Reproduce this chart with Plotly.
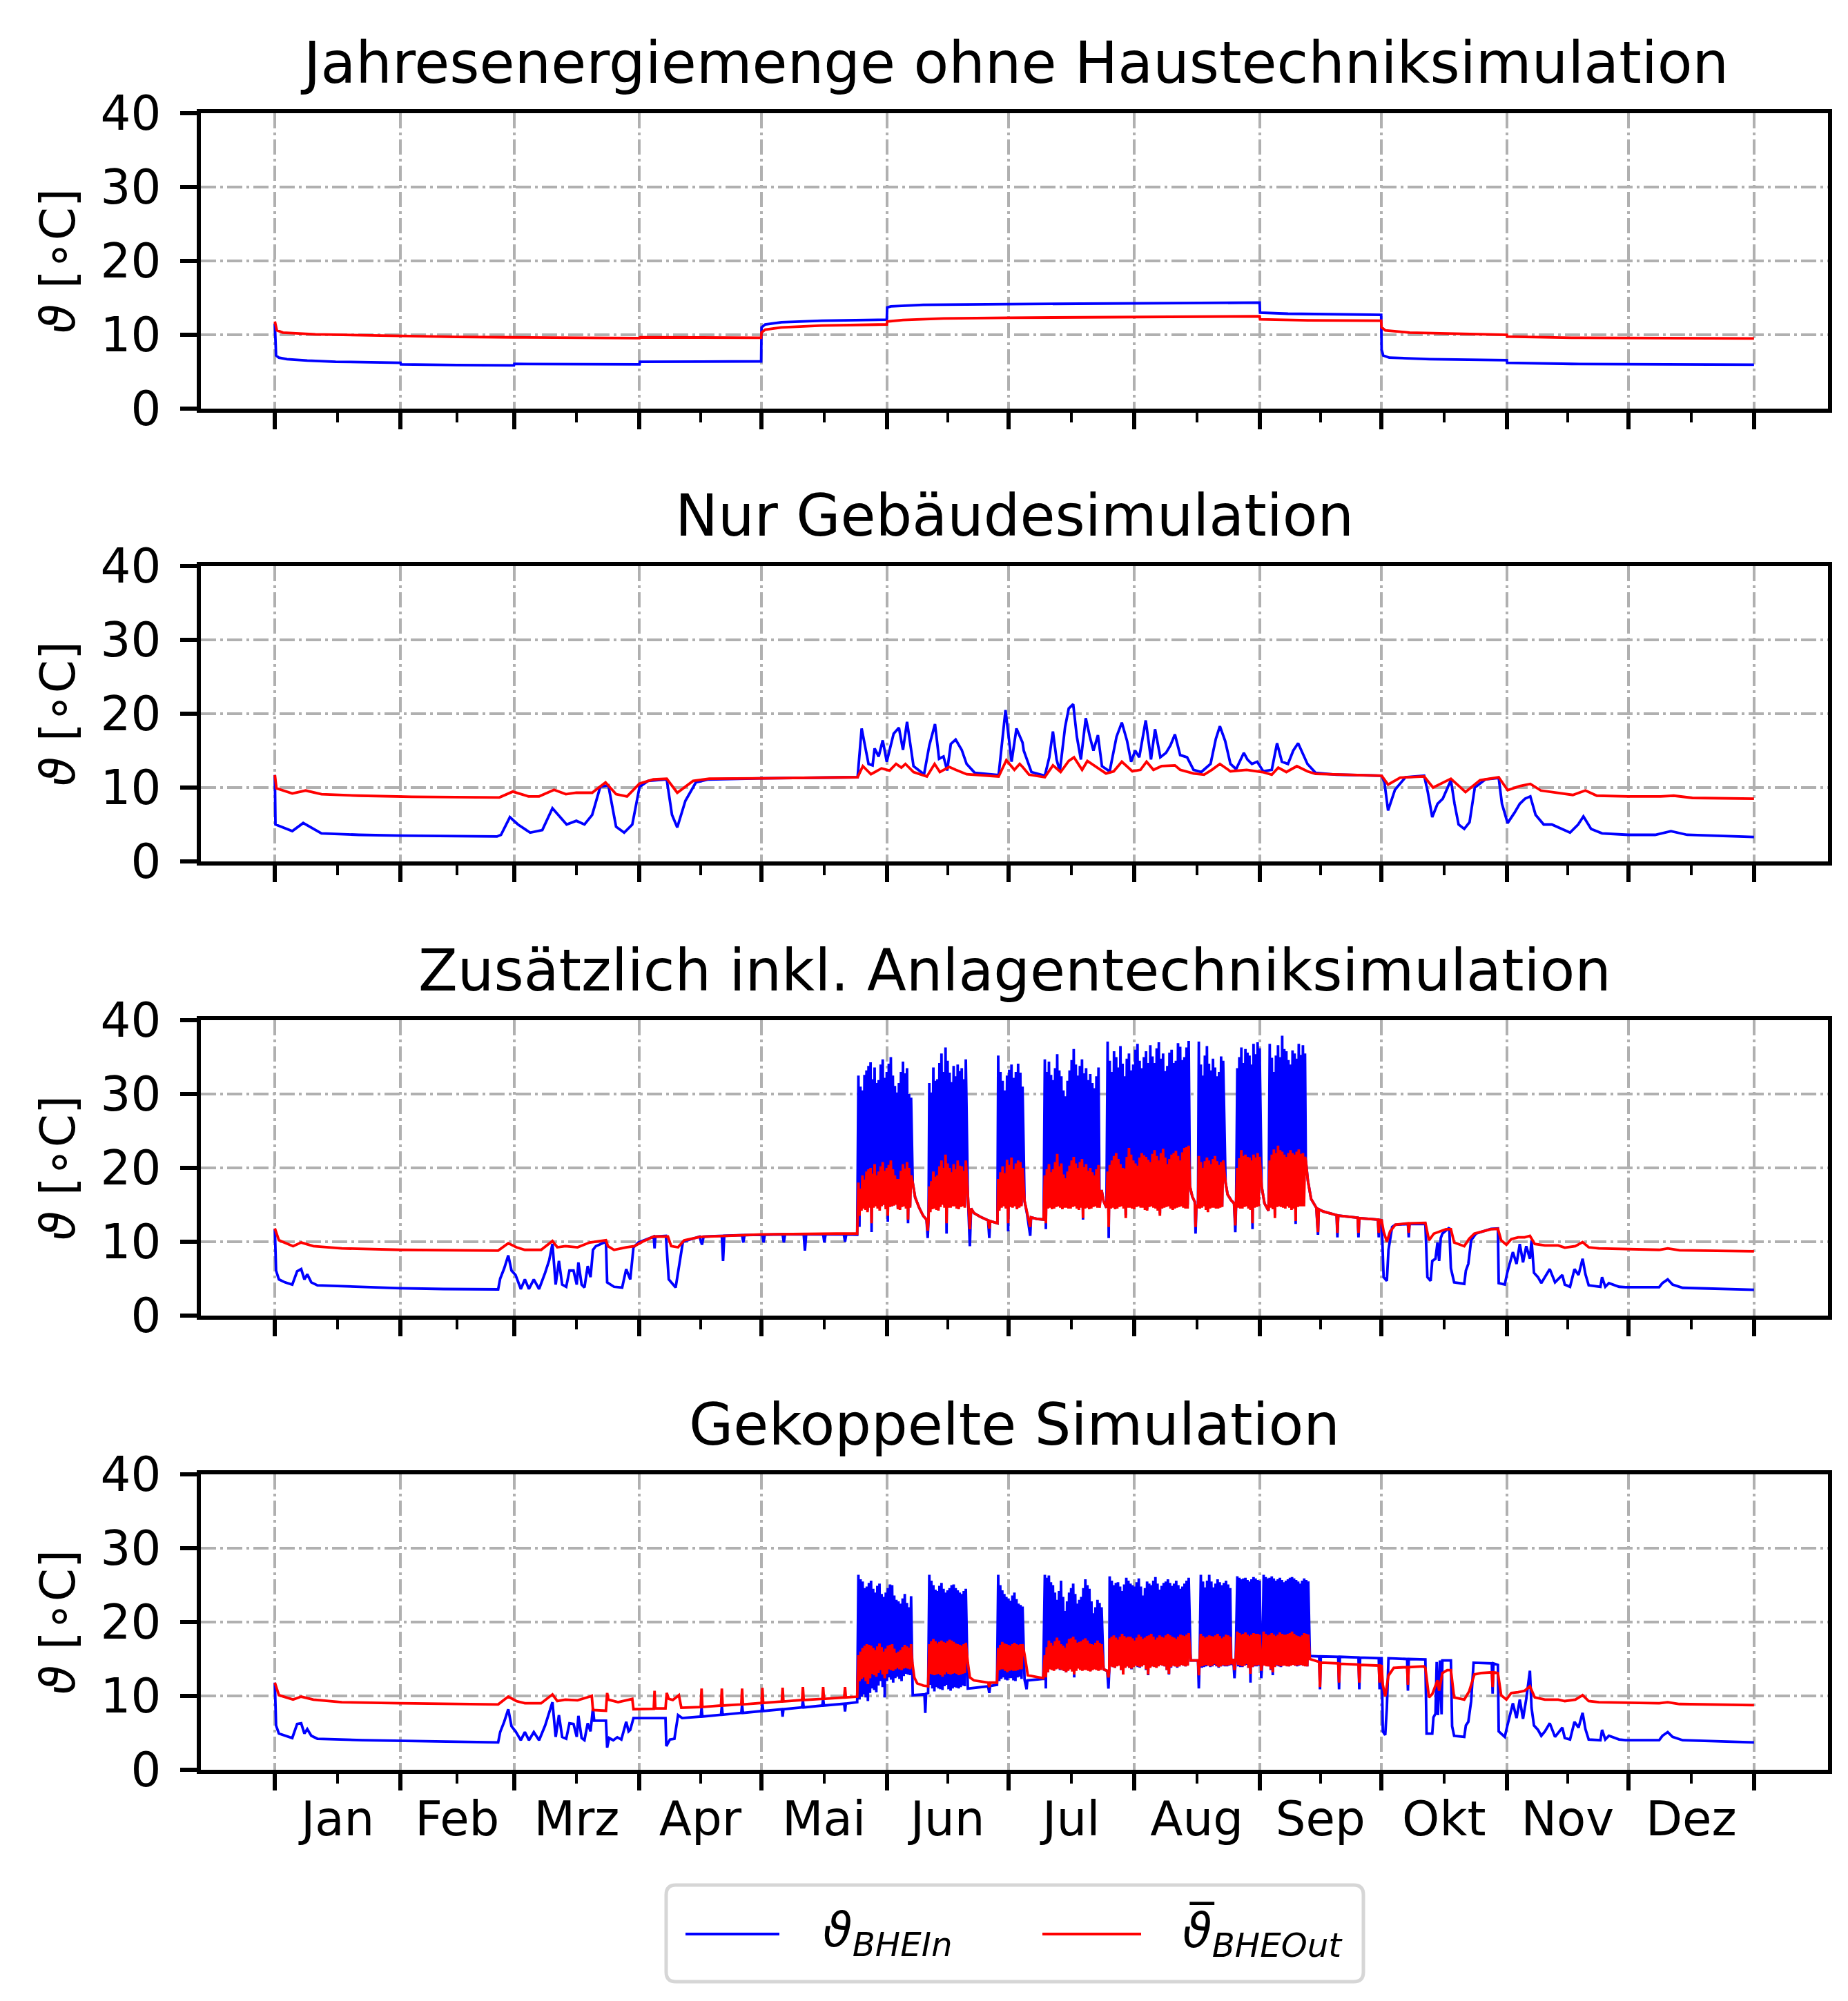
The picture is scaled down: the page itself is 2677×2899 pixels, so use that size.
import plotly.graph_objects as go
from plotly.subplots import make_subplots

# x axis: day of year, months
month_starts = [0, 31, 59, 90, 120, 151, 181, 212, 243, 273, 304, 334, 365]
month_labels = ["Jan", "Feb", "Mrz", "Apr", "Mai", "Jun", "Jul", "Aug", "Sep", "Okt", "Nov", "Dez"]
panel_titles = [
    "Jahresenergiemenge ohne Haustechniksimulation",
    "Nur Gebäudesimulation",
    "Zusätzlich inkl. Anlagentechniksimulation",
    "Gekoppelte Simulation",
]
y_ticks = [0, 10, 20, 30, 40]

# --- panel 1: (day, temperature °C)
p1_in = [(0, 11.5), (0.3, 7.2), (1, 6.9), (3, 6.7), (8, 6.5), (15, 6.35), (31, 6.2), (31.1, 6.0),
         (45, 5.9), (59, 5.85), (59.1, 6.05), (75, 6.0), (90, 6.0), (90.1, 6.35), (120, 6.4),
         (120.1, 11.0), (121, 11.4), (125, 11.7), (135, 11.9), (151, 12.05), (151.1, 13.7),
         (152, 13.85), (160, 14.05), (181, 14.15), (212, 14.25), (243, 14.35), (243.1, 13.0),
         (250, 12.85), (273, 12.7), (273.1, 8.0), (273.5, 7.2), (275, 6.9), (285, 6.7), (304, 6.55),
         (304.1, 6.2), (320, 6.05), (365, 5.95)]
p1_out = [(0, 11.8), (0.5, 10.6), (2, 10.3), (10, 10.05), (31, 9.85), (45, 9.7), (59, 9.65),
          (90, 9.55), (90.1, 9.65), (120, 9.6), (120.1, 10.3), (121, 10.7), (125, 11.0), (135, 11.25),
          (151, 11.4), (151.1, 11.8), (155, 12.0), (165, 12.2), (181, 12.3), (212, 12.4), (243, 12.5),
          (243.1, 12.1), (255, 11.95), (273, 11.9), (273.1, 11.0), (274, 10.6), (280, 10.3),
          (304, 10.0), (304.1, 9.75), (320, 9.6), (365, 9.5)]

# --- panel 2
p2_in = [(0, 11.7), (0.15, 5.0), (4.3, 4.1), (7.0, 5.2), (11.5, 3.8), (20.7, 3.6), (31, 3.5),
         (54.8, 3.37), (55.8, 3.6), (58.0, 6.0), (60.0, 5.0), (63.0, 3.9), (66.0, 4.25), (68.5, 7.2),
         (72.0, 5.0), (74.4, 5.5), (76.4, 5.0), (78.3, 6.3), (80.3, 10.1), (82.3, 10.3), (84.2, 4.7),
         (86.2, 3.9), (88.2, 5.0), (90.0, 10.1), (92.1, 10.9), (96.7, 11.1), (98.0, 6.3), (99.3, 4.6),
         (101.3, 8.2), (103.9, 10.7), (107, 11.1), (120, 11.25), (143.8, 11.4), (144.8, 18.0),
         (146.5, 13.2), (147.5, 13.0), (148, 15.3), (149, 14.2), (150, 16.4), (151, 13.5),
         (152.7, 17.3), (154, 18.1), (155, 15.1), (156, 18.9), (157.6, 12.9), (160.2, 11.8),
         (161.5, 15.7), (162.9, 18.6), (163.9, 13.9), (165, 14.2), (165.9, 12.3), (166.8, 15.9),
         (168, 16.5), (169.5, 15.1), (170.7, 13.2), (172.7, 12.0), (178.6, 11.7), (180.3, 20.5),
         (181.8, 13.5), (183, 18.0), (184.5, 16.1), (184.8, 15.0), (186.7, 12.1), (190, 11.6),
         (191.1, 14.1), (192, 17.6), (192.9, 13.8), (193.7, 12.2), (195, 18.2), (195.9, 20.7),
         (197, 21.3), (197.9, 16.9), (198.9, 13.8), (200.1, 19.4), (201.1, 16.9), (202, 15.0),
         (203.1, 17.1), (204.1, 12.9), (206, 12.2), (207.7, 16.9), (209, 18.8), (210.3, 16.3),
         (211.3, 13.5), (212.3, 15.0), (213.3, 14.1), (214.9, 19.1), (216.2, 13.8), (217.2, 17.9),
         (218.5, 14.1), (219.9, 14.7), (221, 15.7), (222.1, 17.2), (223.4, 14.4), (225.1, 14.1),
         (226.7, 12.4), (228.6, 12.1), (230.9, 13.2), (232.2, 16.6), (233.2, 18.3), (234.5, 16.3),
         (235.8, 13.2), (237.2, 12.5), (239.1, 14.7), (240, 13.8), (241.1, 13.2), (242.4, 13.5),
         (243.9, 12.2), (246, 12.4), (247.3, 16.0), (248.5, 13.5), (250, 13.2), (251.3, 15.0),
         (252.5, 16.0), (253.5, 14.7), (254.8, 13.2), (256.8, 12.0), (262, 11.75), (273.1, 11.6),
         (273.8, 10.7), (274.7, 6.9), (276.4, 9.7), (279, 11.4), (283.6, 11.6), (284.5, 9.4),
         (285.6, 6.0), (286.9, 7.8), (288.2, 8.5), (290.2, 11.0), (291.1, 7.8), (292.1, 5.0),
         (293.5, 4.4), (294.8, 5.3), (296.1, 10.0), (298.7, 11.1), (302, 11.3), (302.8, 7.8),
         (304.2, 5.2), (305.9, 6.6), (307.2, 7.8), (308.5, 8.5), (309.8, 8.8), (311.1, 6.3),
         (313.1, 5.0), (315.1, 5.0), (317.1, 4.5), (319.6, 3.9), (321.6, 5.0), (322.9, 6.1),
         (324.8, 4.4), (327.5, 3.8), (334, 3.6), (340.6, 3.6), (344.5, 4.1), (348.5, 3.6), (365, 3.3)]
p2_out = [(0, 11.7), (0.4, 9.9), (4.3, 9.2), (7.6, 9.6), (11.5, 9.1), (20.7, 8.9), (33.8, 8.75),
          (55.4, 8.66), (58.7, 9.45), (62.6, 8.8), (65.2, 8.8), (68.9, 9.7), (71.8, 9.1), (74.4, 9.3),
          (78.3, 9.3), (81.6, 10.7), (84.2, 9.1), (86.9, 8.8), (90, 10.55), (93.4, 11.1), (96.7, 11.2),
          (99.3, 9.3), (103.2, 10.9), (107.2, 11.2), (120, 11.25), (143.8, 11.4), (145.1, 12.9),
          (147.1, 11.8), (149.7, 12.6), (151.7, 12.3), (153.3, 13.2), (154.6, 12.7), (155.6, 13.2),
          (157.6, 12.1), (160.9, 11.5), (162.8, 13.2), (164.1, 12.1), (166.4, 12.8), (168, 12.4),
          (170.7, 11.8), (178.6, 11.5), (180.5, 13.7), (182.5, 12.4), (183.8, 13.2), (184.5, 12.8),
          (186.1, 11.75), (190, 11.4), (192, 13.0), (193.9, 12.1), (195.9, 13.6), (197.2, 14.1),
          (199.2, 12.4), (200.5, 13.6), (202.4, 12.9), (205.1, 11.9), (207, 12.2), (209, 13.5),
          (211.6, 12.2), (213.6, 12.4), (215.1, 13.5), (216.8, 12.4), (218.8, 12.9), (222.1, 13.0),
          (223.4, 12.4), (226.7, 11.9), (229.3, 11.75), (231.2, 12.4), (233.2, 13.2), (235.8, 12.2),
          (239.8, 12.4), (243.7, 12.1), (246, 11.75), (247.6, 12.7), (249.6, 12.1), (252.2, 12.9),
          (254.8, 12.2), (256.8, 11.85), (273.1, 11.6), (274.7, 10.4), (277.7, 11.35), (283.6, 11.5),
          (285.8, 10.0), (290.2, 11.2), (293.8, 9.4), (297.4, 11.0), (302, 11.4), (304.2, 9.65),
          (307.2, 10.2), (309.8, 10.5), (312.4, 9.6), (317.1, 9.25), (320.3, 9.0), (323.4, 9.6),
          (326.2, 8.9), (334, 8.8), (341.9, 8.8), (345.2, 8.9), (349.8, 8.6), (365, 8.5)]

# --- panel 3
p3_in = [(0, 11.75), (0.3, 6.1), (1, 4.9), (2.5, 4.5), (4.3, 4.2), (5.5, 6.0), (6.5, 6.3), (7.3, 4.9),
         (8, 5.6), (9, 4.5), (10.5, 4.1), (21.6, 3.9), (31, 3.7), (41.6, 3.6), (55.1, 3.55),
         (55.6, 5.0), (56.6, 6.4), (57.6, 8.15), (58.4, 6.1), (59.4, 5.5), (60.7, 3.6), (61.7, 4.9),
         (62.7, 3.6), (63.9, 4.9), (65.2, 3.6), (66.7, 5.8), (67.7, 7.5), (68.5, 9.7), (69.3, 4.2),
         (70.1, 7.4), (70.9, 4.2), (71.9, 3.9), (72.7, 6.1), (73.7, 6.1), (74.5, 4.2), (74.9, 7.2),
         (75.7, 4.2), (76.4, 3.8), (77.2, 6.7), (77.9, 5.2), (78.5, 8.9), (79.2, 9.4), (81.7, 10.0),
         (82.0, 4.5), (83.7, 3.9), (85.7, 3.8), (86.7, 6.3), (87.7, 4.9), (88.5, 9.25), (89.7, 9.9),
         (93.5, 10.7), (93.7, 9.1), (93.9, 10.7), (96.5, 10.8), (97.2, 4.9), (98.9, 3.8), (99.7, 6.4),
         (100.7, 10.0), (104.8, 10.7), (105.4, 9.6), (105.8, 10.7), (110.3, 10.8), (110.6, 7.4),
         (110.9, 10.8), (115.3, 10.9), (115.6, 9.9), (115.9, 10.9), (120.3, 10.95), (120.6, 9.9),
         (120.9, 10.95), (125.3, 11.0), (125.6, 9.9), (125.9, 11.0), (130.5, 11.0), (130.8, 8.8),
         (131.1, 11.0), (135.3, 11.0), (135.6, 9.9), (135.9, 11.0), (140.4, 11.0), (140.7, 10.0),
         (141.0, 11.0), (143.7, 10.95),
         (157.4, 18.0), (158, 16.0), (159, 14.6), (160, 13.5), (160.8, 13.0), (161.1, 10.5), (161.3, 13.0),
         (171.0, 16.5), (171.5, 9.4), (171.8, 14.5), (172.5, 13.9), (174, 13.4), (176, 12.9),
         (176.3, 10.5), (176.5, 12.8), (178.3, 12.5),
         (185.0, 15.5), (185.6, 13.8), (186.4, 10.8), (186.6, 13.3), (188, 13.1), (189.7, 13.0),
         (204.0, 17.0), (204.5, 15.5), (205.2, 14.6),
         (225.8, 17.5), (226.4, 16.1), (227.0, 15.4), (227.2, 11.1), (227.4, 15.0), (227.8, 14.6),
         (234.6, 18.0), (235.1, 16.4), (236.0, 15.6), (236.7, 15.2), (237.0, 11.3), (237.2, 15.0),
         (243.5, 17.5), (244.2, 15.2), (245.2, 14.2),
         (254.4, 21.0), (254.9, 18.3), (255.7, 15.8), (257.0, 14.6), (257.4, 10.95), (257.6, 14.4),
         (258.7, 14.1), (262.0, 13.6), (262.2, 10.6), (262.4, 13.55), (267.2, 13.25), (267.4, 10.6),
         (267.6, 13.2), (272.2, 13.0), (272.4, 10.6), (272.6, 12.95), (273.1, 12.9), (273.6, 5.2),
         (274.4, 4.7), (274.8, 8.9), (275.7, 12.0), (276.5, 12.3), (279.6, 12.4), (279.8, 10.6),
         (280.0, 12.4), (283.5, 12.45), (283.9, 12.4), (284.4, 5.2), (285.2, 4.7), (285.6, 7.4),
         (286.4, 7.7), (286.9, 9.9), (287.3, 7.4), (287.7, 10.5), (288.1, 11.1), (289.8, 11.9),
         (290.2, 6.4), (291, 4.5), (293.5, 4.3), (293.9, 6.1), (294.5, 7.0), (295.2, 10.2),
         (296.4, 11.1), (300.1, 11.75), (301.8, 11.8), (302, 4.4), (303.5, 4.2), (304.1, 5.8),
         (304.7, 7.0), (305.5, 8.6), (306.4, 7.0), (307.2, 9.7), (308, 7.2), (308.8, 9.4),
         (309.7, 7.7), (310.1, 10.2), (310.7, 5.8), (311.7, 5.2), (312.5, 4.4), (313.4, 5.2),
         (314.6, 6.3), (315.9, 4.5), (317.7, 5.5), (318.3, 4.2), (319.6, 3.9), (320.7, 6.3),
         (321.7, 5.5), (322.7, 7.7), (323.4, 5.6), (324.2, 4.1), (327.1, 3.9), (327.5, 5.2),
         (328.3, 3.9), (329.2, 4.4), (331.7, 3.9), (333.3, 3.85), (341.6, 3.85), (342.4, 4.4),
         (343.7, 4.9), (344.9, 4.2), (347.4, 3.76), (365, 3.5)]
p3_out = [(0, 11.8), (1, 10.2), (4.5, 9.4), (6.5, 9.9), (9.5, 9.4), (16.5, 9.1), (31, 8.9),
          (55.1, 8.8), (57.6, 9.8), (59.6, 9.25), (61.7, 8.9), (65.7, 8.9), (68.5, 10.1), (69.7, 9.25),
          (71.7, 9.4), (74.7, 9.25), (77.7, 9.9), (81.7, 10.2), (82.2, 9.4), (83.7, 8.9), (86.7, 9.25),
          (88.7, 9.4), (90.7, 10.0), (93.5, 10.7), (97, 10.7), (97.8, 9.4), (99.5, 9.25), (101, 10.2),
          (104.8, 10.65), (120.3, 11.0), (138.6, 11.1), (143.7, 11.1),
          (157.4, 18.0), (158, 16.0), (159, 14.6), (160, 13.5), (160.8, 13.0), (161.1, 11.5), (161.3, 13.0),
          (171.0, 16.5), (171.5, 11.7), (171.8, 14.5), (172.5, 13.9), (174, 13.4), (176, 12.9),
          (176.3, 11.8), (176.5, 12.8), (178.3, 12.5),
          (185.0, 15.5), (185.6, 13.8), (186.4, 12.0), (186.6, 13.3), (188, 13.1), (189.7, 13.0),
          (204.0, 17.0), (204.5, 15.5), (205.2, 14.6),
          (225.8, 17.5), (226.4, 16.1), (227.0, 15.4), (227.2, 12.0), (227.4, 15.0), (227.8, 14.6),
          (234.6, 18.0), (235.1, 16.4), (236.0, 15.6), (236.7, 15.2), (237.0, 12.2), (237.2, 15.0),
          (243.5, 17.5), (244.2, 15.2), (245.2, 14.2),
          (254.4, 21.0), (254.9, 18.3), (255.7, 15.8), (257.0, 14.6), (257.4, 11.3), (257.6, 14.4),
          (258.7, 14.1), (262.0, 13.6), (262.2, 11.2), (262.4, 13.55), (267.2, 13.25), (267.4, 11.2),
          (267.6, 13.2), (272.2, 13.0), (272.4, 11.2), (272.6, 12.95), (273.1, 12.9), (273.6, 11.4),
          (274.4, 10.0), (275.2, 11.4), (276.5, 12.3), (278.6, 12.45), (279.6, 12.5), (279.8, 11.2),
          (280.0, 12.5), (283.9, 12.55), (284.8, 10.2), (286, 11.1), (287.3, 11.4), (289, 11.7),
          (290.2, 11.7), (291, 9.9), (293.5, 9.4), (294.7, 10.4), (296, 11.1), (300.1, 11.7),
          (301.8, 11.75), (302.6, 10.2), (303.9, 9.6), (305.1, 10.35), (306.8, 10.6), (308.4, 10.6),
          (309.7, 10.8), (310.9, 9.7), (313.4, 9.5), (316.7, 9.5), (318.3, 9.2), (320.9, 9.4),
          (322.7, 9.95), (324.2, 9.25), (326.7, 9.1), (333.3, 9.0), (341.6, 8.9), (343.7, 9.1),
          (346.6, 8.85), (365, 8.7)]

# on/off cycling periods: (first day, last day, values spread evenly over that span)
p3_in_bursts = [
    (144.0, 157.0, [32.5, 12.0, 31.0, 14.8, 30.5, 15.0, 32.6, 14.6, 33.2, 14.2, 33.8, 15.1, 34.3, 11.3,
                    32.0, 15.0, 33.6, 15.2, 31.5, 14.9, 31.9, 14.6, 34.0, 15.2, 34.7, 15.0, 32.2, 14.7,
                    33.0, 12.7, 34.1, 15.0, 35.0, 14.8, 32.5, 15.1, 31.1, 15.2, 30.2, 14.6, 31.5, 14.5,
                    33.0, 15.0, 34.4, 15.0, 32.8, 14.8, 33.5, 12.5, 30.0, 14.8, 29.5]),
    (161.5, 170.5, [31.5, 14.8, 30.2, 15.0, 33.6, 15.0, 31.8, 14.7, 32.0, 14.5, 34.2, 15.1, 35.5, 15.2,
                    33.0, 14.9, 36.3, 11.1, 34.5, 14.8, 32.9, 14.8, 31.6, 15.0, 33.8, 15.0, 32.4, 14.7,
                    34.0, 14.6, 33.1, 15.0, 33.5, 15.0, 32.0, 14.8, 34.7]),
    (178.5, 184.5, [35.2, 14.5, 33.0, 14.9, 31.8, 15.0, 30.5, 14.6, 32.5, 11.4, 33.3, 14.9, 34.0, 14.8,
                    32.2, 15.0, 33.0, 14.5, 34.1, 14.8, 32.9, 15.0, 31.0]),
    (190.0, 203.5, [34.7, 11.7, 33.0, 14.9, 34.4, 15.0, 32.6, 14.7, 31.9, 14.8, 33.5, 15.1, 35.4, 15.2,
                    33.2, 14.8, 32.4, 14.6, 30.5, 15.0, 29.7, 15.0, 31.8, 14.9, 33.2, 14.8, 34.6, 15.0,
                    36.1, 15.0, 34.0, 14.7, 32.5, 14.6, 33.8, 15.1, 34.7, 13.0, 32.8, 14.9, 33.5, 15.0,
                    31.9, 14.8, 32.7, 14.8, 31.5, 15.0, 30.8, 15.2, 32.4, 14.9, 33.6, 14.9]),
    (205.5, 225.5, [37.1, 10.5, 34.5, 14.9, 33.0, 15.0, 35.8, 14.7, 35.0, 14.8, 33.6, 15.1, 36.5, 15.2,
                    34.1, 14.9, 32.4, 13.6, 34.8, 15.0, 35.5, 15.0, 33.2, 14.8, 34.0, 14.6, 36.0, 15.1,
                    36.8, 15.2, 34.5, 14.9, 33.5, 15.0, 35.0, 14.7, 35.8, 14.4, 34.2, 15.0, 36.6, 15.2,
                    35.1, 14.8, 34.2, 14.8, 36.2, 15.0, 37.0, 13.8, 34.8, 14.9, 35.5, 15.0, 33.1, 15.1,
                    33.8, 15.2, 35.6, 14.8, 36.0, 14.6, 34.2, 15.0, 34.5, 15.0, 36.9, 15.1, 36.4, 15.2,
                    34.6, 14.9, 35.0, 14.8, 36.3, 15.0, 37.2]),
    (228.0, 234.0, [37.1, 14.8, 34.0, 15.0, 32.5, 15.0, 35.2, 14.7, 36.5, 14.4, 34.1, 15.1, 33.2, 15.0,
                    34.8, 14.9, 33.6, 14.8, 32.4, 15.0, 33.0, 15.0, 35.1, 14.8, 34.5]),
    (237.5, 243.0, [33.5, 15.0, 35.0, 14.9, 36.3, 14.8, 34.2, 15.1, 36.1, 15.0, 35.6, 14.7, 35.2, 14.6,
                    34.0, 11.7, 36.8, 14.9, 35.4, 15.0, 37.0, 15.0, 36.2]),
    (245.5, 254.2, [36.8, 15.0, 34.9, 14.8, 33.0, 13.6, 35.2, 15.0, 36.6, 15.0, 35.0, 14.9, 37.9, 14.8,
                    36.1, 15.1, 35.8, 15.0, 34.6, 14.7, 34.0, 14.6, 35.9, 15.0, 35.5, 12.4, 34.8, 15.0,
                    36.8, 15.0, 35.3, 14.9, 36.6, 15.2, 35.5]),
]
p3_out_bursts = [
    (144.0, 157.0, [18.0, 13.5, 17.2, 14.2, 19.0, 14.5, 18.4, 14.3, 19.5, 14.0, 19.8, 14.6, 20.0, 12.5,
                    19.2, 14.6, 20.5, 14.8, 19.0, 14.5, 19.5, 14.2, 20.2, 14.8, 20.8, 15.0, 19.6, 14.4,
                    20.0, 13.5, 20.4, 14.7, 21.0, 14.8, 19.8, 14.9, 19.0, 15.0, 18.5, 14.4, 18.5, 14.3,
                    19.6, 14.7, 20.5, 14.8, 19.9, 14.5, 20.8, 13.0, 20.0, 14.6, 19.0]),
    (161.5, 170.5, [17.5, 14.0, 18.2, 14.4, 19.5, 14.5, 18.8, 14.3, 19.0, 14.2, 20.2, 14.7, 21.0, 15.0,
                    20.0, 14.6, 21.8, 12.5, 20.6, 14.6, 20.0, 14.6, 19.4, 14.8, 20.5, 14.8, 19.8, 14.5,
                    21.0, 14.4, 20.3, 14.7, 20.2, 14.8, 19.6, 14.6, 21.0]),
    (178.5, 184.5, [18.5, 14.2, 19.4, 14.6, 20.2, 14.8, 19.3, 14.5, 21.1, 12.5, 20.4, 14.7, 21.4, 14.6,
                    19.8, 14.8, 20.6, 14.4, 21.0, 14.6, 20.8, 14.8, 20.0]),
    (190.0, 203.5, [19.0, 12.5, 19.8, 14.5, 20.5, 14.6, 19.4, 14.4, 19.8, 14.5, 20.8, 14.7, 21.9, 14.8,
                    20.2, 14.6, 20.6, 14.4, 19.1, 14.6, 18.6, 14.6, 19.5, 14.5, 20.3, 14.5, 21.0, 14.7,
                    21.5, 14.8, 20.6, 14.5, 20.0, 14.3, 20.8, 14.6, 21.2, 13.2, 20.1, 14.5, 20.5, 14.6,
                    19.6, 14.4, 20.0, 14.5, 19.4, 14.7, 19.0, 14.8, 19.8, 14.6, 20.4, 14.6]),
    (205.5, 225.5, [19.5, 12.0, 20.4, 14.5, 21.0, 14.6, 21.6, 14.4, 22.0, 14.5, 21.2, 14.7, 20.5, 14.8,
                    20.0, 14.5, 19.9, 13.2, 21.5, 14.6, 22.7, 14.6, 21.8, 14.5, 21.0, 14.4, 20.6, 14.7,
                    20.3, 14.8, 21.4, 14.6, 22.0, 14.6, 21.7, 14.3, 21.5, 14.2, 21.1, 14.7, 20.8, 14.8,
                    21.9, 14.6, 22.4, 14.5, 21.6, 14.2, 21.0, 13.5, 22.0, 14.5, 22.6, 14.6, 21.4, 14.7,
                    20.5, 14.8, 21.2, 14.5, 21.8, 14.3, 22.0, 14.5, 22.3, 14.6, 21.6, 14.7, 21.0, 14.8,
                    22.1, 14.6, 22.7, 14.5, 22.8, 14.5, 23.0]),
    (228.0, 234.0, [21.6, 14.5, 20.8, 14.6, 20.0, 14.8, 20.9, 14.3, 21.4, 14.0, 21.0, 14.5, 20.5, 14.6,
                    21.2, 14.6, 21.6, 14.5, 20.9, 14.5, 20.4, 14.6, 20.8, 14.7, 21.0]),
    (237.5, 243.0, [20.0, 14.6, 21.3, 14.5, 22.4, 14.5, 21.6, 14.7, 21.8, 14.8, 21.5, 14.5, 21.4, 14.3,
                    21.0, 12.5, 21.8, 14.6, 21.4, 14.7, 22.0, 14.8, 21.5]),
    (245.5, 254.2, [21.0, 14.6, 21.8, 14.4, 22.5, 13.2, 22.0, 14.7, 23.0, 14.8, 22.4, 14.7, 22.2, 14.6,
                    21.8, 14.5, 21.5, 14.8, 22.0, 14.6, 22.4, 14.3, 22.0, 14.5, 21.8, 12.8, 22.2, 14.7,
                    22.5, 14.8, 21.9, 14.8, 22.0, 14.8, 21.5]),
]

# --- panel 4
p4_in = [(0, 11.8), (0.3, 6.0), (1, 4.9), (2.5, 4.6), (4.3, 4.3), (5.5, 6.2), (6.5, 6.3), (7.3, 4.9),
         (8, 5.5), (9, 4.6), (10.5, 4.2), (21.6, 4.0), (31, 3.9), (55.1, 3.7), (55.6, 5.1), (56.6, 6.5),
         (57.6, 8.2), (58.4, 5.9), (59.4, 5.2), (60.7, 4.0), (61.7, 5.1), (62.7, 4.0), (63.9, 5.1),
         (65.2, 4.0), (66.7, 6.0), (67.7, 7.6), (68.5, 9.15), (69.3, 4.45), (70.1, 7.4), (70.9, 4.45),
         (71.9, 4.2), (72.7, 6.3), (73.7, 6.2), (74.5, 4.45), (74.9, 7.3), (75.7, 4.3), (76.4, 4.0),
         (77.2, 6.3), (77.9, 5.2), (78.5, 8.4), (78.8, 6.65), (81.7, 6.65), (82.0, 3.0), (82.5, 4.3),
         (83.5, 4.0), (84.5, 4.4), (85.5, 4.1), (86.7, 6.5), (87.3, 5.2), (87.7, 5.4), (88.5, 7.0),
         (96.4, 7.0), (96.6, 3.2), (97.5, 4.1), (98.6, 4.2), (99.5, 7.4), (100.5, 7.0), (105.1, 7.2),
         (105.3, 8.4), (105.5, 7.2), (110.1, 7.45), (110.3, 8.6), (110.5, 7.45), (115.1, 7.7),
         (115.3, 8.8), (115.5, 7.7), (120.1, 7.95), (120.3, 9.0), (120.5, 7.95), (125.1, 8.2),
         (125.3, 7.2), (125.5, 8.2), (130.1, 8.45), (130.3, 9.4), (130.5, 8.45), (135.1, 8.7),
         (135.3, 9.6), (135.5, 8.7), (140.5, 8.95), (140.7, 7.9), (140.9, 8.95), (143.7, 9.15),
         (157.4, 10.1), (160.3, 10.2), (160.5, 7.7), (160.7, 10.3), (161.2, 10.4),
         (171.0, 11.0), (176.0, 11.3), (176.3, 10.4), (176.5, 11.35), (178.2, 11.5),
         (185.0, 12.2), (185.5, 10.9), (185.7, 12.1), (189.6, 12.3),
         (204.5, 13.6), (205.4, 13.4), (205.7, 11.0), (205.9, 13.5),
         (226.0, 14.8), (227.8, 14.8), (228.0, 11.0), (228.2, 14.8),
         (236.5, 15.0), (236.8, 12.4), (237.1, 14.9),
         (243.4, 12.4), (243.7, 14.8),
         (255.4, 15.4), (257.7, 15.35), (257.9, 10.9), (258.1, 15.35), (262.4, 15.3), (262.6, 10.9),
         (262.8, 15.3), (267.4, 15.2), (267.6, 10.9), (267.8, 15.2), (272.4, 15.1), (272.6, 10.9),
         (272.8, 15.1), (273.1, 15.1), (273.4, 5.2), (274.0, 4.7), (274.4, 8.4), (274.8, 15.1),
         (279.4, 15.0), (279.6, 10.7), (279.8, 15.0), (283.9, 14.95), (284.2, 4.9), (285.6, 4.9),
         (285.9, 7.1), (286.4, 7.6), (286.7, 14.6), (287.0, 7.4), (287.5, 14.8), (287.9, 7.5),
         (288.1, 14.8), (290.2, 14.8), (290.5, 5.9), (291, 4.6), (293.5, 4.45), (293.9, 6.0),
         (294.5, 6.5), (295.2, 9.3), (295.8, 14.5), (300.3, 14.4), (300.5, 10.3), (300.7, 14.4),
         (301.8, 14.2), (302, 5.2), (303.5, 4.45), (304.1, 5.9), (304.7, 7.3), (305.5, 9.0),
         (306.4, 7.0), (307.2, 9.5), (308, 6.9), (308.8, 9.6), (309.7, 13.4), (310.1, 8.4),
         (310.7, 6.0), (311.7, 5.4), (312.5, 4.6), (313.4, 5.2), (314.6, 6.3), (315.9, 4.45),
         (317.7, 5.7), (318.3, 4.3), (319.6, 4.1), (320.7, 6.5), (321.7, 5.7), (322.7, 7.7),
         (323.4, 5.5), (324.2, 4.1), (327.1, 4.0), (327.5, 5.4), (328.3, 4.1), (329.2, 4.6),
         (331.7, 4.1), (333.3, 4.0), (341.6, 4.0), (342.4, 4.6), (343.7, 5.1), (344.9, 4.45),
         (347.4, 4.0), (365, 3.7)]
p4_out = [(0, 11.8), (1, 10.1), (4.5, 9.5), (6.5, 9.9), (9.5, 9.5), (16.5, 9.15), (31, 9.0),
          (55.1, 8.85), (57.6, 9.9), (59.6, 9.3), (61.7, 9.0), (65.7, 9.0), (68.5, 10.2), (69.7, 9.3),
          (71.7, 9.5), (74.7, 9.4), (77.7, 9.9), (78.2, 10.0), (78.5, 8.1), (81.7, 8.0), (82.0, 10.4),
          (82.3, 9.5), (84.7, 9.15), (86.7, 9.45), (88.2, 9.6), (88.5, 8.2), (93.5, 8.25), (93.7, 10.7),
          (93.9, 8.3), (96.4, 8.3), (96.7, 10.4), (97.2, 9.6), (98.2, 9.45), (99.7, 10.1), (100.3, 8.4),
          (105.1, 8.5), (105.3, 11.0), (105.5, 8.5), (110.1, 8.7), (110.3, 11.0), (110.5, 8.7),
          (115.1, 8.85), (115.3, 11.0), (115.5, 8.85), (120.1, 9.05), (120.3, 11.1), (120.5, 9.05),
          (125.1, 9.25), (125.3, 11.1), (125.5, 9.25), (130.1, 9.45), (130.3, 11.2), (130.5, 9.45),
          (135.1, 9.6), (135.3, 11.2), (135.5, 9.6), (140.5, 9.8), (140.7, 11.2), (140.9, 9.8),
          (143.7, 9.9),
          (157.3, 14.5), (157.8, 12.5), (158.5, 11.7), (160.0, 11.4), (161.2, 11.3),
          (171.0, 14.5), (171.5, 12.5), (172.5, 12.1), (176.0, 11.8), (176.3, 11.2), (176.5, 11.8),
          (178.2, 11.8),
          (185.0, 15.6), (185.8, 12.8), (189.6, 12.4),
          (204.5, 13.6), (205.4, 13.4), (205.7, 12.5), (205.9, 13.5),
          (226.0, 14.8), (227.8, 14.8), (228.0, 12.8), (228.2, 14.8),
          (236.5, 15.0), (236.8, 13.5), (237.1, 14.9),
          (243.4, 13.4), (243.7, 14.8),
          (255.4, 15.0), (257.7, 14.6), (257.9, 11.2), (258.1, 14.5), (262.4, 14.4), (262.6, 11.8),
          (262.8, 14.35), (267.4, 14.25), (267.6, 11.8), (267.8, 14.2), (272.4, 14.1), (272.6, 11.8),
          (272.8, 14.1), (273.1, 14.05), (273.4, 11.5), (274.0, 9.95), (274.8, 12.75), (276.1, 13.8),
          (279.4, 13.9), (279.6, 11.5), (279.8, 13.9), (283.5, 14.0), (283.9, 13.8), (284.8, 9.8),
          (285.6, 10.25), (286.9, 12.1), (287.3, 10.7), (288.1, 13.1), (289.3, 13.5), (290.2, 13.5),
          (291, 9.8), (293.5, 9.5), (294.7, 10.6), (296, 12.9), (297.6, 13.1), (300.3, 13.2),
          (300.5, 11.2), (300.7, 13.2), (301.8, 13.1), (302.6, 10.1), (303.9, 9.5), (305.1, 10.4),
          (306.8, 10.5), (308.4, 10.7), (309.7, 11.3), (310.9, 9.8), (313.4, 9.5), (316.7, 9.5),
          (318.3, 9.3), (320.9, 9.5), (322.7, 10.1), (324.2, 9.3), (326.7, 9.15), (333.3, 9.05),
          (341.6, 9.0), (343.7, 9.15), (346.6, 8.9), (365, 8.75)]
p4_in_bursts = [
    (144.0, 157.0, [26.4, 9.5, 25.8, 9.9, 25.5, 10.2, 24.6, 9.8, 24.8, 9.3, 25.3, 10.4, 25.6, 11.0,
                    24.5, 10.8, 24.0, 10.5, 24.9, 11.4, 25.2, 12.0, 23.8, 11.2, 23.4, 9.8, 24.0, 12.0,
                    24.6, 12.5, 25.1, 12.2, 25.0, 11.8, 23.6, 12.4, 23.0, 12.6, 22.8, 12.3, 22.5, 12.0,
                    23.2, 12.7, 23.8, 13.0, 22.6, 12.9, 22.0, 12.8, 23.5]),
    (161.5, 170.5, [26.4, 11.5, 25.6, 11.0, 25.0, 10.6, 24.4, 11.2, 24.2, 11.0, 24.9, 10.9, 25.3, 10.8,
                    24.5, 11.3, 24.0, 11.5, 24.3, 10.9, 24.6, 10.7, 25.0, 11.0, 25.1, 11.2, 24.6, 11.1,
                    24.3, 11.0, 24.0, 11.2, 23.8, 11.4, 24.2, 11.3, 24.5]),
    (178.5, 184.5, [26.4, 12.0, 25.0, 12.3, 24.3, 12.5, 23.8, 12.2, 23.4, 12.1, 23.2, 12.4, 22.9, 12.4,
                    23.6, 12.1, 24.0, 12.0, 23.1, 12.5, 22.5, 12.6, 22.3, 12.3, 22.1]),
    (190.0, 204.0, [26.4, 11.0, 26.0, 13.2, 26.3, 13.7, 25.4, 13.6, 25.0, 13.5, 24.0, 13.7, 23.0, 13.8,
                    24.2, 13.5, 25.6, 13.6, 23.4, 13.4, 21.5, 13.2, 22.8, 13.5, 24.0, 13.7, 24.6, 13.6,
                    25.2, 12.5, 23.8, 13.6, 22.5, 13.8, 23.0, 13.6, 23.4, 13.5, 24.6, 13.7, 25.8, 13.6,
                    25.0, 13.5, 24.5, 13.4, 22.8, 13.6, 21.2, 13.7, 22.0, 13.6, 23.0, 13.5, 22.6, 13.6,
                    22.0]),
    (206.0, 225.5, [26.2, 14.0, 25.6, 13.9, 25.0, 13.8, 25.3, 14.1, 25.4, 14.2, 24.8, 13.5, 24.2, 12.9,
                    25.1, 13.9, 26.0, 14.0, 25.6, 13.8, 25.2, 13.6, 25.0, 14.0, 24.8, 14.1, 25.4, 13.9,
                    25.9, 13.8, 24.8, 14.0, 23.6, 14.2, 24.6, 13.5, 25.5, 12.8, 25.2, 13.9, 25.0, 14.0,
                    25.6, 14.0, 26.1, 13.9, 25.2, 14.1, 24.4, 14.3, 24.9, 14.1, 25.3, 14.0, 25.5, 13.5,
                    25.8, 12.9, 25.3, 13.8, 24.9, 14.1, 25.2, 14.0, 25.6, 13.8, 25.0, 14.0, 24.5, 14.2,
                    24.8, 14.1, 25.2, 14.0, 25.6, 14.2, 26.0]),
    (228.5, 236.0, [26.4, 13.8, 25.5, 13.9, 24.7, 14.0, 25.6, 14.1, 26.4, 13.9, 25.5, 14.0, 24.7, 14.2,
                    25.2, 14.0, 25.8, 13.8, 25.4, 14.0, 25.0, 14.1, 25.3, 14.0, 25.6, 14.0, 25.1, 14.1,
                    24.6, 14.2]),
    (237.5, 243.0, [26.2, 14.0, 26.0, 13.9, 25.8, 13.9, 25.9, 14.1, 26.0, 14.2, 25.7, 13.8, 25.5, 11.8,
                    25.8, 13.9, 26.1, 14.0, 25.9, 14.0, 25.7, 14.1, 25.6]),
    (244.0, 255.0, [26.4, 14.2, 26.1, 14.1, 25.9, 14.0, 26.0, 13.5, 26.2, 12.8, 25.9, 14.0, 25.6, 14.1,
                    25.8, 14.0, 26.0, 13.9, 25.7, 14.1, 25.4, 14.2, 25.6, 14.1, 25.8, 14.0, 26.0, 14.2,
                    26.1, 14.3, 25.9, 14.1, 25.7, 14.0, 25.5, 14.1, 25.2, 14.2, 25.6, 14.1, 25.9, 14.1,
                    25.7, 14.0, 25.5]),
]
p4_out_bursts = [
    (144.0, 157.0, [15.5, 12.0, 16.0, 12.3, 16.5, 12.5, 16.8, 12.0, 17.0, 11.6, 16.9, 12.4, 16.8, 13.0,
                    16.5, 12.8, 16.2, 12.6, 16.7, 13.1, 17.1, 13.5, 16.6, 12.9, 16.0, 12.4, 16.4, 13.0,
                    16.8, 13.6, 16.9, 13.5, 17.0, 13.4, 16.4, 13.6, 15.8, 13.8, 16.0, 13.6, 16.2, 13.5,
                    16.6, 13.7, 16.9, 13.8, 16.7, 13.7, 16.5, 13.6, 17.0]),
    (161.5, 170.5, [17.0, 13.0, 17.4, 12.9, 17.7, 12.8, 17.4, 12.9, 17.1, 13.0, 17.3, 12.8, 17.5, 12.6,
                    17.3, 12.9, 17.2, 13.2, 17.4, 13.0, 17.6, 12.9, 17.5, 13.0, 17.3, 13.1, 17.1, 13.0,
                    17.0, 12.8, 16.9, 12.9, 16.8, 13.0, 17.0, 13.1, 17.2]),
    (178.5, 184.5, [16.5, 13.5, 16.9, 13.6, 17.3, 13.6, 17.1, 13.4, 17.0, 13.2, 16.9, 13.4, 16.8, 13.5,
                    17.0, 13.4, 17.2, 13.4, 17.0, 13.5, 16.9, 13.6, 17.0, 13.6, 17.0]),
    (190.0, 204.0, [15.5, 12.5, 16.6, 13.2, 17.5, 13.6, 17.2, 13.5, 16.8, 13.4, 17.4, 13.6, 17.9, 13.7,
                    17.5, 13.6, 17.0, 13.5, 16.8, 13.4, 16.5, 13.2, 17.1, 13.4, 17.7, 13.6, 17.8, 13.3,
                    18.0, 12.9, 17.6, 13.4, 17.2, 13.7, 17.3, 13.5, 17.4, 13.4, 17.6, 13.5, 17.8, 13.5,
                    17.5, 13.4, 17.1, 13.3, 17.0, 13.5, 16.9, 13.6, 17.2, 13.5, 17.5, 13.4, 17.2, 13.5,
                    17.0]),
    (206.0, 225.5, [17.8, 14.0, 18.0, 13.9, 18.2, 13.8, 17.9, 14.0, 17.6, 14.1, 18.0, 13.5, 18.4, 12.9,
                    18.1, 13.8, 17.9, 14.0, 18.0, 13.8, 18.0, 13.7, 17.8, 13.9, 17.5, 14.1, 17.9, 14.0,
                    18.3, 13.9, 18.0, 14.0, 17.7, 14.2, 17.9, 13.6, 18.1, 12.9, 18.2, 13.8, 18.4, 14.0,
                    18.0, 13.9, 17.6, 13.8, 17.9, 14.0, 18.2, 14.2, 18.0, 14.1, 17.9, 14.0, 18.2, 13.5,
                    18.4, 13.0, 18.2, 13.9, 18.0, 14.1, 17.9, 14.0, 17.7, 13.9, 18.0, 14.0, 18.3, 14.2,
                    18.2, 14.1, 18.1, 14.0, 18.3, 14.1, 18.5]),
    (228.5, 236.0, [18.4, 14.0, 18.1, 14.1, 17.9, 14.2, 18.0, 14.1, 18.2, 14.0, 18.1, 14.1, 18.0, 14.3,
                    18.2, 14.1, 18.4, 13.9, 18.1, 14.0, 17.8, 14.2, 18.0, 14.1, 18.3, 14.1, 18.2, 14.2,
                    18.0, 14.3]),
    (237.5, 243.0, [18.7, 14.2, 18.5, 14.1, 18.3, 14.0, 18.4, 14.1, 18.6, 14.3, 18.3, 13.8, 18.1, 13.0,
                    18.3, 13.9, 18.5, 14.1, 18.4, 14.1, 18.4, 14.2, 18.3]),
    (244.0, 255.0, [18.7, 14.1, 18.4, 14.0, 18.2, 14.0, 18.3, 13.6, 18.5, 13.2, 18.3, 13.9, 18.1, 14.2,
                    18.3, 14.1, 18.6, 14.0, 18.4, 14.1, 18.3, 14.1, 18.3, 14.0, 18.4, 14.0, 18.5, 14.1,
                    18.7, 14.2, 18.4, 14.1, 18.2, 14.1, 18.1, 14.2, 18.0, 14.2, 18.2, 14.1, 18.5, 14.0,
                    18.4, 14.0, 18.3]),
]


def build(points, bursts=()):
    pts = list(points)
    for start, end, seq in bursts:
        n = len(seq) - 1
        pts += [(start + (end - start) * i / n, v) for i, v in enumerate(seq)]
    pts.sort(key=lambda p: p[0])
    return [p[0] for p in pts], [p[1] for p in pts]


panels = [
    (build(p1_in), build(p1_out)),
    (build(p2_in), build(p2_out)),
    (build(p3_in, p3_in_bursts), build(p3_out, p3_out_bursts)),
    (build(p4_in, p4_in_bursts), build(p4_out, p4_out_bursts)),
]

# page geometry (pixels)
W, H = 2677, 2899
AX_L, AX_R = 283, 2640
AX_T, AX_B = 156, 2556
panel_tops = [156, 812, 1470, 2128]
PANEL_H = 428
FONT = "DejaVu Sans"


def px(x):
    return (x - AX_L) / (AX_R - AX_L)


def py(y):
    return (AX_B - y) / (AX_B - AX_T)


fig = make_subplots(rows=4, cols=1)
month_mid = [(a + b) / 2 for a, b in zip(month_starts[:-1], month_starts[1:])]
grid_dash = "22px,6px,4px,6px"

for i, ((din, vin), (dout, vout)) in enumerate(panels):
    row = i + 1
    fig.add_trace(go.Scatter(x=din, y=vin, mode="lines", name="ϑ BHEIn",
                             line=dict(color="#0000ff", width=3.8), showlegend=False), row=row, col=1)
    fig.add_trace(go.Scatter(x=dout, y=vout, mode="lines", name="ϑ BHEOut",
                             line=dict(color="#ff0000", width=3.8), showlegend=False), row=row, col=1)
    top = panel_tops[i]
    fig.update_yaxes(domain=[py(top + PANEL_H), py(top)], row=row, col=1)
    fig.update_xaxes(
        range=[-18.25, 383.25], tickmode="array", tickvals=month_mid, ticktext=month_labels,
        ticks="outside", ticklen=14, tickwidth=4.2, tickcolor="black",
        showticklabels=(row == 4), ticklabelstandoff=-8,
        showgrid=False, zeroline=False,
        showline=True, mirror=True, linecolor="black", linewidth=5.6,
        tickfont=dict(family=FONT, size=69, color="black"),
        minor=dict(tickmode="array", tickvals=month_starts, ticks="outside", ticklen=24,
                   tickwidth=5.6, tickcolor="black", showgrid=True, gridcolor="#b0b0b0",
                   gridwidth=3.5, griddash=grid_dash),
        row=row, col=1)
    fig.update_yaxes(
        range=[0, 40], tickmode="array", tickvals=y_ticks,
        ticks="outside", ticklen=24, tickwidth=5.6, tickcolor="black", ticklabelstandoff=14,
        showgrid=True, gridcolor="#b0b0b0", gridwidth=3.5, griddash=grid_dash, zeroline=False,
        showline=True, mirror=True, linecolor="black", linewidth=5.6,
        tickfont=dict(family=FONT, size=69, color="black"),
        row=row, col=1)
    fig.add_annotation(text=panel_titles[i], xref="paper", yref="paper", x=0.5, y=py(top - 72),
                       xanchor="center", yanchor="middle", showarrow=False,
                       font=dict(family=FONT, size=83, color="black"))
    fig.add_annotation(text="<i>ϑ</i> [∘C]", xref="paper", yref="paper", x=px(76),
                       y=py(top + PANEL_H / 2), textangle=-90, xanchor="center", yanchor="middle",
                       showarrow=False, font=dict(family=FONT, size=69, color="black"))

# legend drawn below the last panel
lx0, lx1, ly0, ly1, r = 957, 1967, 2723, 2863, 14
path = (f"M {px(lx0 + r)} {py(ly0)} L {px(lx1 - r)} {py(ly0)} Q {px(lx1)} {py(ly0)} {px(lx1)} {py(ly0 + r)} "
        f"L {px(lx1)} {py(ly1 - r)} Q {px(lx1)} {py(ly1)} {px(lx1 - r)} {py(ly1)} "
        f"L {px(lx0 + r)} {py(ly1)} Q {px(lx0)} {py(ly1)} {px(lx0)} {py(ly1 - r)} "
        f"L {px(lx0)} {py(ly0 + r)} Q {px(lx0)} {py(ly0)} {px(lx0 + r)} {py(ly0)} Z")
fig.add_shape(type="path", path=path, xref="paper", yref="paper",
              line=dict(color="#d6d6d6", width=5), fillcolor="white")
legend_items = [
    ("#0000ff", 985, 1121, 1182, "<i>ϑ</i><sub><i>BHEIn</i></sub>"),
    ("#ff0000", 1502, 1645, 1703, "<i>ϑ\u0305</i><sub><i>BHEOut</i></sub>"),
]
for color, x0, x1, tx, label in legend_items:
    fig.add_shape(type="line", xref="paper", yref="paper", x0=px(x0), x1=px(x1),
                  y0=py(2794), y1=py(2794), line=dict(color=color, width=3.8))
    fig.add_annotation(text=label, xref="paper", yref="paper", x=px(tx), y=py(2792),
                       xanchor="left", yanchor="middle", showarrow=False,
                       font=dict(family=FONT, size=69, color="black"))

fig.update_layout(
    width=W, height=H,
    margin=dict(l=AX_L, r=W - AX_R, t=AX_T, b=H - AX_B),
    paper_bgcolor="white", plot_bgcolor="white",
    showlegend=False,
)

fig.write_html("out.html")
